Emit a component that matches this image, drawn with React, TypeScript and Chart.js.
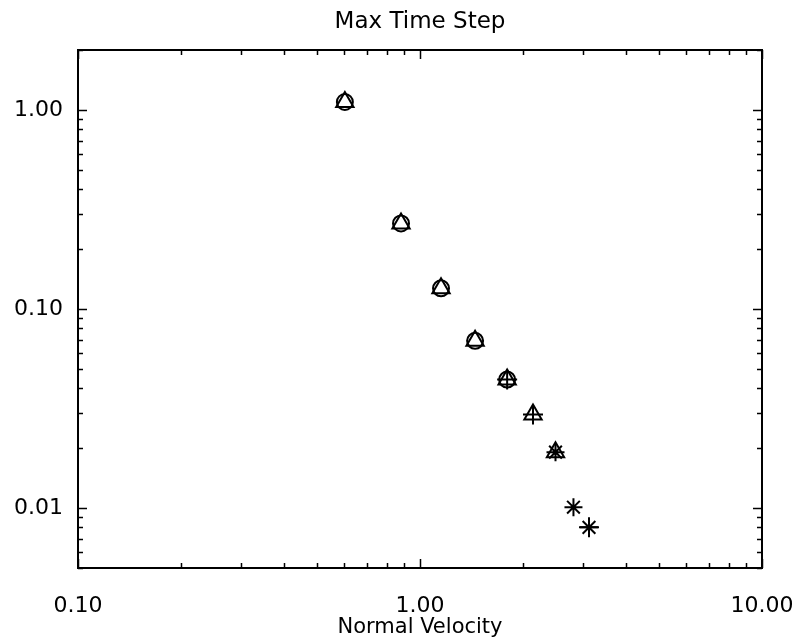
import React, { useEffect, useRef } from "react";
import { Chart, registerables } from "chart.js";

Chart.register(...registerables);

// Normal velocity / max time step readings, grouped by marker
const circleVel = [0.603, 0.88, 1.152, 1.449, 1.798];
const circleStep = [1.096, 0.269, 0.127, 0.0692, 0.0442];

const triangleVel = [0.603, 0.88, 1.152, 1.449, 1.798, 2.14, 2.49];
const triangleStep = [1.096, 0.269, 0.127, 0.0692, 0.0442, 0.0295, 0.0191];

const crossVel = [1.798, 2.14, 3.12];
const crossStep = [0.0442, 0.0295, 0.008];

const starVel = [2.49, 2.81, 3.12];
const starStep = [0.0191, 0.0101, 0.008];

const xTickValues = [0.1, 1, 10];
const yTickValues = [0.01, 0.1, 1];
const xMin = 0.1, xMax = 10;
const yMin = 0.005, yMax = 2;

const FONT = "'DejaVu Sans', 'Liberation Sans', sans-serif";

const pts = (xs: number[], ys: number[]) => xs.map((x, i) => ({ x, y: ys[i] }));

function logTicks(min: number, max: number) {
  const major: number[] = [];
  const minor: number[] = [];
  const lo = Math.floor(Math.log10(min));
  const hi = Math.ceil(Math.log10(max));
  for (let e = lo; e <= hi; e++) {
    const base = Math.pow(10, e);
    for (let m = 1; m <= 9; m++) {
      const v = +(m * base).toPrecision(6);
      if (v < min * 0.9999 || v > max * 1.0001) continue;
      if (m === 1) major.push(v);
      else minor.push(v);
    }
  }
  return { major, minor };
}

const frameTicks = {
  id: "frameTicks",
  afterLayout(chart: any) {
    // centre the title over the plotting area
    const tb = chart.titleBlock;
    if (tb) {
      tb.left = chart.chartArea.left;
      tb.right = chart.chartArea.right;
      tb.width = tb.right - tb.left;
    }
  },
  afterDraw(chart: any) {
    const { ctx, chartArea, scales } = chart;
    const { left, right, top, bottom } = chartArea;
    ctx.save();
    ctx.strokeStyle = "#000";
    ctx.lineWidth = 1.5;
    const xs = logTicks(xMin, xMax);
    const ys = logTicks(yMin, yMax);
    const drawX = (vals: number[], len: number) => {
      vals.forEach((v) => {
        const px = Math.round(scales.x.getPixelForValue(v)) + 0.5;
        ctx.beginPath();
        ctx.moveTo(px, bottom);
        ctx.lineTo(px, bottom - len);
        ctx.moveTo(px, top);
        ctx.lineTo(px, top + len);
        ctx.stroke();
      });
    };
    const drawY = (vals: number[], len: number) => {
      vals.forEach((v) => {
        const py = Math.round(scales.y.getPixelForValue(v)) + 0.5;
        ctx.beginPath();
        ctx.moveTo(left, py);
        ctx.lineTo(left + len, py);
        ctx.moveTo(right, py);
        ctx.lineTo(right - len, py);
        ctx.stroke();
      });
    };
    drawX(xs.major, 9);
    drawX(xs.minor, 5);
    drawY(ys.major, 9);
    drawY(ys.minor, 5);
    ctx.lineWidth = 2;
    ctx.strokeRect(left, top, right - left, bottom - top);
    ctx.restore();
  },
};

export default function App() {
  const ref = useRef<HTMLCanvasElement | null>(null);
  useEffect(() => {
    document.body.style.margin = "0";
    const canvas = ref.current!;
    const common = {
      showLine: false,
      borderColor: "#000",
      backgroundColor: "rgba(0,0,0,0)",
      borderWidth: 2,
    };
    const chart = new Chart(canvas, {
      type: "scatter",
      data: {
        datasets: [
          { ...common, label: "circle", data: pts(circleVel, circleStep), pointStyle: "circle", pointRadius: 8 },
          { ...common, label: "triangle", data: pts(triangleVel, triangleStep), pointStyle: "triangle", pointRadius: 10 },
          { ...common, label: "cross", data: pts(crossVel, crossStep), pointStyle: "cross", pointRadius: 10 },
          { ...common, label: "star", data: pts(starVel, starStep), pointStyle: "star", pointRadius: 9 },
        ],
      },
      plugins: [frameTicks],
      options: {
        animation: false,
        responsive: false,
        events: [],
        layout: { padding: { left: 0, right: 39, top: 0, bottom: 0 } },
        plugins: {
          legend: { display: false },
          tooltip: { enabled: false },
          title: {
            display: true,
            text: "Max Time Step",
            color: "#000",
            font: { family: FONT, size: 23, weight: "normal" },
            padding: { top: 8.2, bottom: 14.2 },
          },
        },
        scales: {
          x: {
            type: "logarithmic",
            min: xMin,
            max: xMax,
            afterBuildTicks: (s: any) => {
              s.ticks = xTickValues.map((v) => ({ value: v }));
            },
            afterFit: (s: any) => {
              s.height = 72;
              s.paddingLeft = 0;
              s.paddingRight = 0;
            },
            grid: { display: false, drawTicks: false },
            border: { display: false },
            ticks: {
              color: "#000",
              font: { family: FONT, size: 22 },
              padding: 25,
              maxRotation: 0,
              autoSkip: false,
              callback: (v: any) => Number(v).toFixed(2),
            },
            title: {
              display: true,
              text: "Normal Velocity",
              color: "#000",
              font: { family: FONT, size: 21 },
              padding: { top: 0, bottom: 0 },
            },
          },
          y: {
            type: "logarithmic",
            min: yMin,
            max: yMax,
            afterBuildTicks: (s: any) => {
              s.ticks = yTickValues.map((v) => ({ value: v }));
            },
            afterFit: (s: any) => {
              s.width = 78;
              s.paddingTop = 0;
              s.paddingBottom = 0;
            },
            grid: { display: false, drawTicks: false },
            border: { display: false },
            ticks: {
              color: "#000",
              font: { family: FONT, size: 22 },
              padding: 15,
              autoSkip: false,
              callback: (v: any) => Number(v).toFixed(2),
            },
          },
        },
      },
    } as any);
    return () => chart.destroy();
  }, []);
  return (
    <div style={{ width: 801, height: 640 }}>
      <canvas ref={ref} width={801} height={640} style={{ display: "block" }} />
    </div>
  );
}
